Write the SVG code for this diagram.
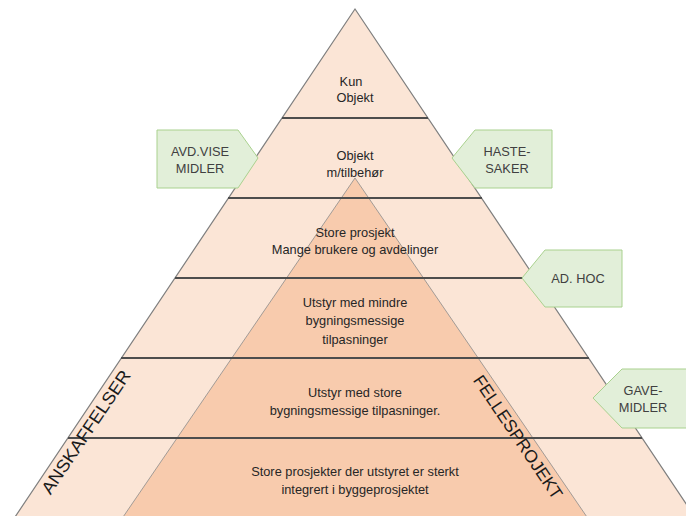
<svg xmlns="http://www.w3.org/2000/svg" width="686" height="516" viewBox="0 0 686 516">
<defs>
<style>
.lbl{font-family:"Liberation Sans",Arial,sans-serif;font-size:12.8px;fill:#262626;text-anchor:middle}
.tag{font-family:"Liberation Sans",Arial,sans-serif;font-size:12.8px;fill:#404040;text-anchor:middle}
.side{font-family:"Liberation Sans",Arial,sans-serif;font-size:17.5px;fill:#1a1a1a;text-anchor:middle}
.band{stroke:#4d4d4d;stroke-width:2;fill:none}
.arrow{fill:#E2EFD9;stroke:#A9D18E;stroke-width:1}
</style>
</defs>
<rect width="686" height="516" fill="#ffffff"/>
<g id="outer-pyramid">
<polygon points="355,9 13,520 697,520" fill="#FBE5D6" stroke="#7F7F7F" stroke-width="1.2"/>
</g>
<g id="inner-pyramid">
<polygon points="355,178 121,520 589,520" fill="#F8CBAD" stroke="#8c8c8c" stroke-width="0.8"/>
</g>
<g id="connectors">
<line class="band" x1="282" y1="118" x2="428" y2="118"/>
<line class="band" x1="228" y1="198" x2="482" y2="198"/>
<line class="band" x1="175" y1="278" x2="535" y2="278"/>
<line class="band" x1="121" y1="358" x2="589" y2="358"/>
<line class="band" x1="68" y1="438" x2="642" y2="438"/>
</g>
<g id="level1">
<text class="lbl" x="351" y="86">Kun</text>
<text class="lbl" x="355" y="101.5">Objekt</text>
</g>
<g id="level2">
<text class="lbl" x="355" y="160">Objekt</text>
<text class="lbl" x="355" y="177">m/tilbehør</text>
</g>
<g id="level3">
<text class="lbl" x="355" y="237">Store prosjekt</text>
<text class="lbl" x="355" y="254">Mange brukere og avdelinger</text>
</g>
<g id="level4">
<text class="lbl" x="355" y="307">Utstyr med mindre</text>
<text class="lbl" x="355" y="325">bygningsmessige</text>
<text class="lbl" x="355" y="344">tilpasninger</text>
</g>
<g id="level5">
<text class="lbl" x="355" y="397">Utstyr med store</text>
<text class="lbl" x="355" y="415">bygningsmessige tilpasninger.</text>
</g>
<g id="level6">
<text class="lbl" x="355" y="476">Store prosjekter der utstyret er sterkt</text>
<text class="lbl" x="355" y="494">integrert i byggeprosjektet</text>
</g>
<g id="anskaffelser">
<text class="side" transform="translate(86,432) rotate(-56)" y="6" textLength="145" lengthAdjust="spacingAndGlyphs">ANSKAFFELSER</text>
</g>
<g id="fellesprojekt">
<text class="side" transform="translate(518,437) rotate(56)" y="6" textLength="145" lengthAdjust="spacingAndGlyphs">FELLESPROJEKT</text>
</g>
<g id="avd-vise-midler">
<polygon class="arrow" points="157,130 238,130 258,158 238,188 157,188"/>
<text class="tag" x="200" y="156">AVD.VISE</text>
<text class="tag" x="200" y="173">MIDLER</text>
</g>
<g id="haste-saker">
<polygon class="arrow" points="452,158 475,130 552,130 552,188 475,188"/>
<text class="tag" x="507" y="156">HASTE-</text>
<text class="tag" x="507" y="173">SAKER</text>
</g>
<g id="ad-hoc">
<polygon class="arrow" points="522,278 545,250 622,250 622,307 545,307"/>
<text class="tag" x="578" y="283">AD. HOC</text>
</g>
<g id="gave-midler">
<polygon class="arrow" points="593,398 622,369 695,369 695,428 622,428"/>
<text class="tag" x="643" y="395">GAVE-</text>
<text class="tag" x="643" y="412">MIDLER</text>
</g>
</svg>
